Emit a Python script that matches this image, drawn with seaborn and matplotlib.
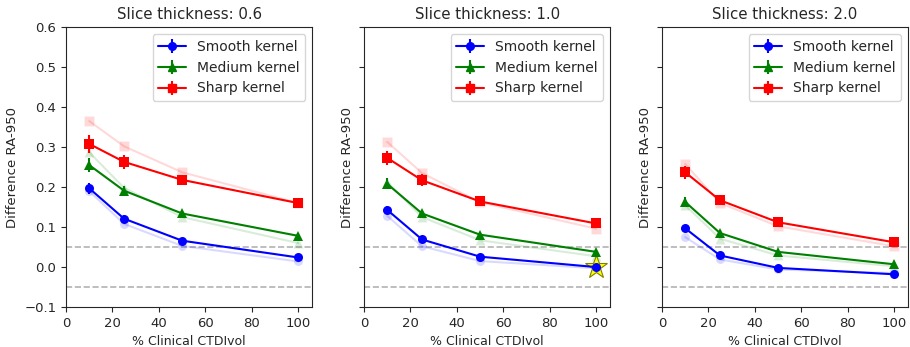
import numpy as np
import pandas as pd
import matplotlib
matplotlib.use("Agg")
import matplotlib.pyplot as plt
from matplotlib.lines import Line2D
import seaborn as sns

dose = [10, 25, 50, 100]
thickness = ["0.6", "1.0", "2.0"]
kernels = ["Smooth kernel", "Medium kernel", "Sharp kernel"]
colors = {"Smooth kernel": "blue", "Medium kernel": "green", "Sharp kernel": "red"}
markers = {"Smooth kernel": "o", "Medium kernel": "^", "Sharp kernel": "s"}

# mean difference per slice thickness, kernel
mean_06 = {"Smooth kernel": [0.197, 0.121, 0.066, 0.024],
           "Medium kernel": [0.255, 0.191, 0.134, 0.078],
           "Sharp kernel": [0.308, 0.263, 0.218, 0.160]}
mean_10 = {"Smooth kernel": [0.143, 0.069, 0.026, 0.000],
           "Medium kernel": [0.208, 0.134, 0.081, 0.038],
           "Sharp kernel": [0.273, 0.217, 0.164, 0.109]}
mean_20 = {"Smooth kernel": [0.097, 0.029, -0.002, -0.018],
           "Medium kernel": [0.163, 0.085, 0.038, 0.007],
           "Sharp kernel": [0.237, 0.167, 0.112, 0.062]}

# error bar half-widths
err_06 = {"Smooth kernel": [0.014, 0.008, 0.006, 0.005],
          "Medium kernel": [0.018, 0.012, 0.007, 0.006],
          "Sharp kernel": [0.022, 0.017, 0.013, 0.008]}
err_10 = {"Smooth kernel": [0.010, 0.007, 0.005, 0.004],
          "Medium kernel": [0.014, 0.009, 0.006, 0.005],
          "Sharp kernel": [0.018, 0.015, 0.010, 0.007]}
err_20 = {"Smooth kernel": [0.008, 0.006, 0.004, 0.004],
          "Medium kernel": [0.012, 0.008, 0.005, 0.004],
          "Sharp kernel": [0.016, 0.012, 0.007, 0.006]}

# reference reconstruction (drawn faintly)
ref_06 = {"Smooth kernel": [0.190, 0.108, 0.053, 0.014],
          "Medium kernel": [0.287, 0.198, 0.125, 0.060],
          "Sharp kernel": [0.365, 0.302, 0.237, 0.160]}
ref_10 = {"Smooth kernel": [0.128, 0.052, 0.015, -0.003],
          "Medium kernel": [0.213, 0.125, 0.067, 0.027],
          "Sharp kernel": [0.313, 0.235, 0.162, 0.096]}
ref_20 = {"Smooth kernel": [0.075, 0.019, -0.006, -0.015],
          "Medium kernel": [0.155, 0.071, 0.029, 0.002],
          "Sharp kernel": [0.258, 0.160, 0.102, 0.052]}

means = [mean_06, mean_10, mean_20]
errs = [err_06, err_10, err_20]
refs = [ref_06, ref_10, ref_20]

sns.set_style("ticks")
plt.rcParams["font.family"] = ["DejaVu Sans"]

fig, axes = plt.subplots(1, 3, figsize=(9.1, 3.47), dpi=100, sharey=True)
fig.subplots_adjust(left=0.0725, right=0.998, top=0.922, bottom=0.115, wspace=0.21)

for ax, th, mean, err, ref in zip(axes, thickness, means, errs, refs):
    ax.axhline(0.05, color="0.7", ls="--", lw=1.2, zorder=0)
    ax.axhline(-0.05, color="0.7", ls="--", lw=1.2, zorder=0)

    rows = []
    for k in kernels:
        for x, m, e, r in zip(dose, mean[k], err[k], ref[k]):
            rows.append({"dose": x, "kernel": k, "mean": m, "err": e, "ref": r})
    df = pd.DataFrame(rows)

    sns.lineplot(data=df, x="dose", y="ref", hue="kernel", style="kernel",
                 palette=colors, markers=markers, dashes=False, alpha=0.15,
                 markersize=6.5, linewidth=1.5, legend=False, ax=ax, zorder=2)

    if th == "1.0":
        ax.plot(100, mean["Smooth kernel"][3], marker="*", markersize=17,
                color="yellow", markeredgecolor="olive", markeredgewidth=0.8,
                linestyle="none", zorder=3)

    sns.lineplot(data=df, x="dose", y="mean", hue="kernel", style="kernel",
                 palette=colors, markers=markers, dashes=False,
                 markersize=6.5, markeredgewidth=0, linewidth=1.5,
                 legend=False, ax=ax, zorder=4)
    for k in kernels:
        sub = df[df["kernel"] == k]
        ax.errorbar(sub["dose"], sub["mean"], yerr=sub["err"], fmt="none",
                    ecolor=colors[k], elinewidth=1.5, zorder=4)

    handles = [(Line2D([], [], color=colors[k], marker=markers[k], markersize=5.5, lw=1.5),
                Line2D([], [], color=colors[k], marker="|", markersize=10,
                       markeredgewidth=1.5, linestyle="none"))
               for k in kernels]
    ax.legend(handles, kernels, loc="upper right", fontsize=10)

    ax.set_title(f"Slice thickness: {th}", fontsize=10.8)
    ax.set_xlabel("% Clinical CTDIvol", fontsize=9)
    ax.set_ylabel("Difference RA-950", fontsize=9.5)
    ax.yaxis.label.set_visible(True)
    ax.set_xlim(0, 106)
    ax.set_xticks([0, 20, 40, 60, 80, 100])
    ax.tick_params(labelsize=9.5)

axes[0].set_ylim(-0.1, 0.6)
axes[0].set_yticks(np.arange(-0.1, 0.61, 0.1))

fig.savefig("out.png", dpi=100)
